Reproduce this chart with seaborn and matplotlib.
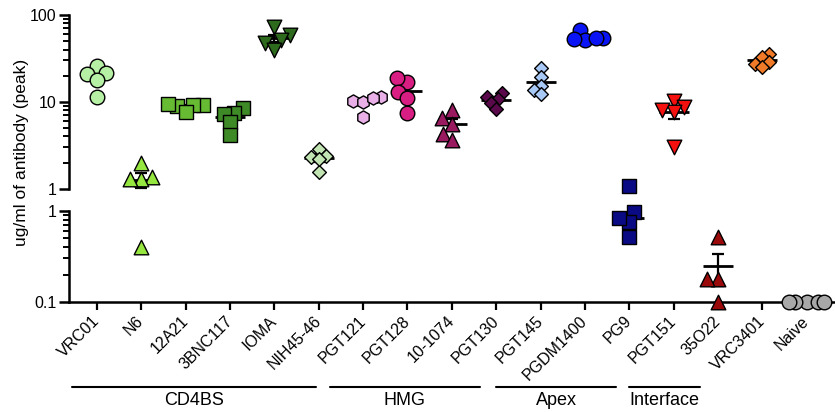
import numpy as np
import pandas as pd
import matplotlib
matplotlib.use('Agg')
import matplotlib.pyplot as plt
import matplotlib.ticker as mticker
from matplotlib.lines import Line2D
from matplotlib.transforms import blended_transform_factory
import seaborn as sns

# ---------------- data ----------------
categories = ['VRC01', 'N6', '12A21', '3BNC117', 'IOMA', 'NIH45-46',
              'PGT121', 'PGT128', '10-1074', 'PGT130', 'PGT145', 'PGDM1400',
              'PG9', 'PGT151', '35O22', 'VRC3401', 'Naive']

vrc01 = [26, 21.5, 21, 18, 11.5]
n6 = [2.0, 1.38, 1.28, 1.3, 0.4]
a12a21 = [9.0, 9.3, 9.2, 9.4, 7.6]
bnc117 = [8.6, 7.5, 7.2, 5.8, 4.1]
ioma = [72, 59, 51, 47, 40]
nih4546 = [2.9, 2.3, 2.4, 1.55, 2.2]
pgt121 = [10.3, 11.5, 10.0, 11.2, 6.7]
pgt128 = [17, 19, 13, 11, 7.5]
b10_1074 = [8.0, 6.6, 5.6, 4.3, 3.6]
pgt130 = [11.5, 12.7, 10.7, 9.6, 8.2]
pgt145 = [24.3, 19.5, 15.3, 13.7, 12.2]
pgdm1400 = [67, 51.5, 53, 55, 54]
pg9 = [1.08, 0.96, 0.76, 0.84, 0.51]
pgt151 = [10.3, 8.8, 7.7, 8.0, 3.0]
b35o22 = [0.52, 0.18, 0.18, 0.1]
vrc3401 = [35.6, 32.6, 29, 27.3, 25.4]
naive = [0.1, 0.1, 0.1, 0.1, 0.1]

values = [vrc01, n6, a12a21, bnc117, ioma, nih4546, pgt121, pgt128, b10_1074,
          pgt130, pgt145, pgdm1400, pg9, pgt151, b35o22, vrc3401, naive]

groups = ['CD4BS', 'HMG', 'Apex', 'Interface']

# ---------------- styles ----------------
colors = ['#b6f0a4', '#96e640', '#66bb33', '#3d8a26', '#2d6a1e', '#c2e4b2',
          '#e8b0e6', '#d81e82', '#9a1a60', '#5a0a4a', '#a8c8f5', '#0a14f5',
          '#0a0a85', '#f51010', '#9b0a0a', '#f07a28', '#a8a8a8']
markers = ['o', '^', 's', 's', 'v', 'D', 'h', 'o', '^', 'D', 'D', 'o',
           's', 'v', '^', 'D', 'o']
msize = {'o': 10.5, '^': 10.5, 'v': 10.5, 's': 9.8, 'D': 7.0, 'h': 9.5}
layout_ratio = 0.65   # swarm is laid out with smaller markers so points overlap like the original

sns.set_theme(style='ticks')
plt.rcParams['font.family'] = ['Liberation Sans', 'DejaVu Sans']
plt.rcParams.update({'text.color': 'black', 'axes.edgecolor': 'black',
                     'xtick.color': 'black', 'ytick.color': 'black',
                     'axes.labelcolor': 'black'})

df = pd.DataFrame({'mab': np.repeat(categories, [len(v) for v in values]),
                   'val': np.concatenate(values)})
stats = df.groupby('mab', sort=False)['val'].agg(['mean', 'sem']).reindex(categories).fillna(0)

fig = plt.figure(figsize=(8.35, 4.12), dpi=100)
ax_top = fig.add_axes([0.0826, 0.542, 0.917, 0.4216])
ax_bot = fig.add_axes([0.0826, 0.267, 0.917, 0.2216])

swarms = []
panels = [(ax_top, 1, 100, df['val'] >= 1), (ax_bot, 0.1, 1, df['val'] < 1)]
for ax, lo, hi, mask in panels:
    ax.set_yscale('log')
    ax.set_ylim(lo, hi)
    for cat, col, mk in zip(categories, colors, markers):
        sub = df[(df['mab'] == cat) & mask]
        if len(sub) == 0:
            continue
        n_before = len(ax.collections)
        sns.swarmplot(data=sub, x='mab', y='val', order=categories, ax=ax,
                      color=col, marker=mk, size=msize[mk] * layout_ratio,
                      edgecolor='black', linewidth=1, warn_thresh=1, zorder=3)
        for coll in ax.collections[n_before:]:
            coll.set_clip_on(False)
            if len(coll.get_offsets()) > 0:
                swarms.append((coll, msize[mk]))

# mean +/- SEM
xpos = np.arange(len(categories))
for ax, sel in [(ax_top, (stats['mean'] >= 1).values), (ax_bot, (stats['mean'] < 1).values)]:
    xs = xpos[sel]
    m = stats['mean'].values[sel]
    s = stats['sem'].values[sel]
    ax.errorbar(xs, m, yerr=s, fmt='none', ecolor='black', elinewidth=1.6,
                capsize=4.5, capthick=1.6, zorder=2)
    ax.plot(xs, m, ls='none', marker='_', ms=21, mew=2, color='black', zorder=2)

for ax, lo, hi, _ in panels:
    ax.set_ylim(lo, hi)
    ax.set_xlim(-0.63, 16.63)
    ax.set_xlabel('')
    ax.set_ylabel('')
    ax.yaxis.set_major_locator(mticker.LogLocator(base=10, numticks=10))
    ax.yaxis.set_minor_locator(mticker.LogLocator(base=10, subs=np.arange(2, 10), numticks=20))
    ax.yaxis.set_major_formatter(mticker.FuncFormatter(lambda v, p: f'{v:g}'))
    ax.yaxis.set_minor_formatter(mticker.NullFormatter())
    ax.tick_params(axis='y', which='major', length=7, width=1.8, labelsize=11.5, pad=2)
    ax.tick_params(axis='y', which='minor', length=4, width=1.4)
    for sp in ['top', 'right']:
        ax.spines[sp].set_visible(False)
    ax.spines['left'].set_linewidth(1.8)

ax_top.spines['bottom'].set_visible(False)
ax_top.tick_params(axis='x', bottom=False, labelbottom=False)
ax_bot.spines['bottom'].set_linewidth(1.8)
ax_bot.set_xticks(xpos)
ax_bot.set_xticklabels(categories, rotation=45, ha='right', va='center',
                       rotation_mode='anchor')
ax_bot.tick_params(axis='x', length=6, width=1.6, labelsize=11.5, pad=6)

# group annotations
trans = blended_transform_factory(ax_bot.transData, fig.transFigure)
group_spans = [(-0.56, 4.94), (5.25, 8.63), (9.0, 11.7), (12.0, 13.6)]
for name, (a, b) in zip(groups, group_spans):
    fig.add_artist(Line2D([a, b], [0.0607, 0.0607], transform=trans, color='black', lw=1.5))
    fig.text((a + b) / 2, 0.027, name, transform=trans, ha='center', va='center', fontsize=13)

fig.text(0.026, 0.631, 'ug/ml of antibody (peak)', rotation=90, ha='center', va='center',
         fontsize=12.5)

# let seaborn lay out the swarms, then freeze them and draw the markers at full size
fig.canvas.draw()
for coll, sz in swarms:
    if 'draw' in coll.__dict__:
        del coll.draw
    coll.set_sizes([sz ** 2])

fig.savefig('out.png', dpi=100)
